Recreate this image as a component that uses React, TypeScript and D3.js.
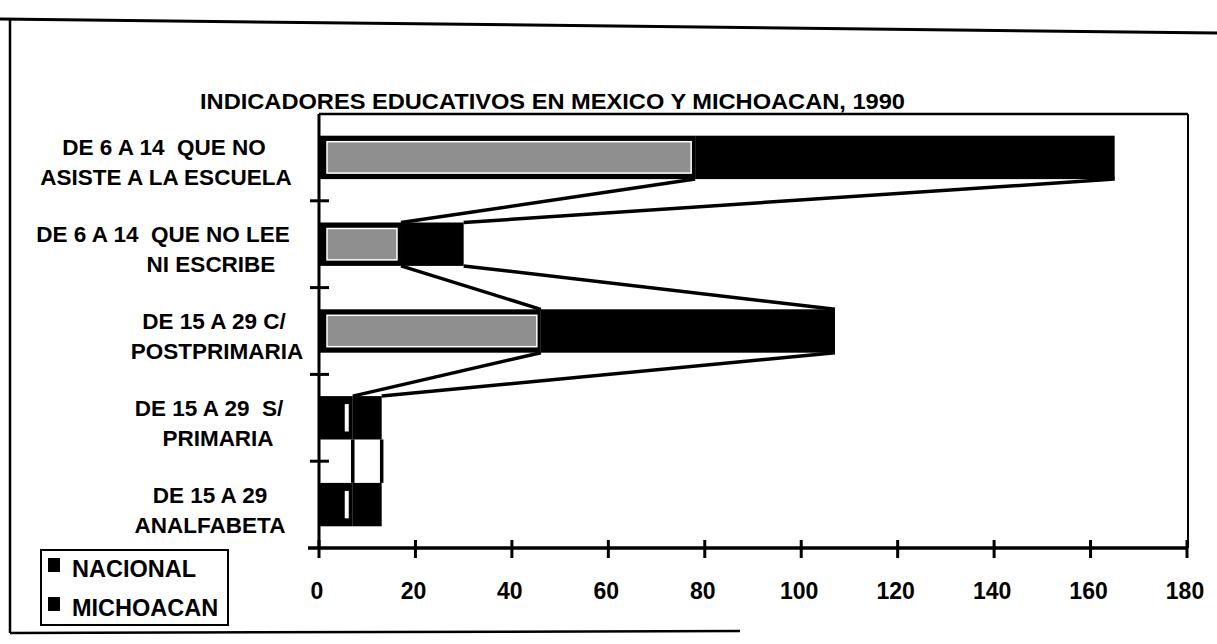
import React from "react";
import * as d3 from "d3";

const categories = [
  "DE 6 A 14 QUE NO ASISTE A LA ESCUELA",
  "DE 6 A 14 QUE NO LEE NI ESCRIBE",
  "DE 15 A 29 C/ POSTPRIMARIA",
  "DE 15 A 29 S/ PRIMARIA",
  "DE 15 A 29 ANALFABETA",
];
const categoryLines = [
  ["DE 6 A 14  QUE NO", "ASISTE A LA ESCUELA"],
  ["DE 6 A 14  QUE NO LEE", "NI ESCRIBE"],
  ["DE 15 A 29 C/", "POSTPRIMARIA"],
  ["DE 15 A 29  S/", "PRIMARIA"],
  ["DE 15 A 29", "ANALFABETA"],
];
const nacional = [78, 17, 46, 7, 7];
const michoacan = [87, 13, 61, 6, 6];
const seriesNames = ["NACIONAL", "MICHOACAN"];
const xTickValues = [0, 20, 40, 60, 80, 100, 120, 140, 160, 180];
const title = "INDICADORES EDUCATIVOS EN MEXICO Y MICHOACAN, 1990";

// layout (label centers per line)
const labelCenters = [
  [164, 166],
  [163, 211],
  [214, 217],
  [209, 218],
  [210, 210],
];

const FONT = "'Liberation Sans', Arial, Helvetica, sans-serif";

export default function App() {
  const W = 1217;
  const H = 644;
  const left = 319;
  const right = 1188;
  const top = 114;
  const bottom = 548;

  const x = d3.scaleLinear().domain([0, 180]).range([left, 1187]);
  const y = d3
    .scaleBand<string>()
    .domain(categories)
    .range([top, bottom])
    .paddingInner(0.5)
    .paddingOuter(0.25);
  const bw = y.bandwidth();
  const step = y.step();

  const rows = categories.map((c, i) => ({ cat: c, nac: nacional[i], mich: michoacan[i] }));
  const stacked = d3.stack<any>().keys(["nac", "mich"])(rows);

  const seriesLines: any[] = [];
  stacked.forEach((layer, li) => {
    for (let i = 0; i < categories.length - 1; i++) {
      const a = layer[i][1];
      const b = layer[i + 1][1];
      seriesLines.push(
        <line
          key={`sl-${li}-${i}`}
          x1={x(a)}
          y1={(y(categories[i]) as number) + bw}
          x2={x(b)}
          y2={y(categories[i + 1]) as number}
          stroke="#000"
          strokeWidth={3.5}
        />
      );
    }
  });

  const bars: any[] = [];
  stacked.forEach((layer, li) => {
    layer.forEach((d, i) => {
      const x0 = x(d[0]);
      const x1 = x(d[1]);
      const yy = y(categories[i]) as number;
      bars.push(
        <rect key={`b-${li}-${i}`} x={x0} y={yy} width={x1 - x0} height={bw} fill="#000" />
      );
      if (li === 0 && x1 - x0 > 40) {
        bars.push(
          <rect
            key={`bi-${li}-${i}`}
            x={x0 + 8}
            y={yy + 6}
            width={x1 - x0 - 12}
            height={bw - 12}
            fill="#8f8f8f"
            stroke="#fff"
            strokeWidth={1.5}
          />
        );
      } else if (li === 0) {
        bars.push(
          <rect
            key={`bi-${li}-${i}`}
            x={x1 - 8}
            y={yy + 8}
            width={4}
            height={bw - 16}
            fill="#fff"
          />
        );
      }
    });
  });

  const yTicks = d3.range(1, categories.length).map((k) => top + step * k);

  return (
    <svg
      width={W}
      height={H}
      style={{ position: "absolute", left: 0, top: 0, background: "#fff" }}
      fontFamily={FONT}
      fontWeight="bold"
    >
      <rect x={0} y={0} width={W} height={H} fill="#fff" />
      {/* outer frame */}
      <line x1={0} y1={19} x2={W} y2={33} stroke="#000" strokeWidth={3} />
      <line x1={10} y1={19} x2={10} y2={633} stroke="#000" strokeWidth={2.5} />
      <line x1={10} y1={633} x2={740} y2={631} stroke="#000" strokeWidth={2.5} />

      {/* title */}
      <text x={200} y={109} fontSize={22} textLength={705} lengthAdjust="spacingAndGlyphs" fill="#000">
        {title}
      </text>

      {/* plot frame */}
      <line x1={left} y1={top} x2={right} y2={top} stroke="#000" strokeWidth={2.5} />
      <line x1={right} y1={top} x2={right} y2={bottom} stroke="#000" strokeWidth={2} />

      {seriesLines}
      {bars}

      {/* y axis */}
      <line x1={left} y1={top} x2={left} y2={bottom} stroke="#000" strokeWidth={3} />
      {yTicks.map((t, i) => (
        <line key={`yt-${i}`} x1={310} y1={t} x2={329} y2={t} stroke="#000" strokeWidth={3} />
      ))}

      {/* x axis */}
      <line x1={308} y1={bottom} x2={1188} y2={bottom} stroke="#000" strokeWidth={3.5} />
      {xTickValues.map((v) => (
        <line key={`xt-${v}`} x1={x(v)} y1={bottom - 8} x2={x(v)} y2={bottom + 10} stroke="#000" strokeWidth={3} />
      ))}
      {xTickValues.map((v) => (
        <text key={`xl-${v}`} x={x(v) - 2} y={599} fontSize={23} textAnchor="middle" fill="#000">
          {v}
        </text>
      ))}

      {/* category labels */}
      {categoryLines.map((lines, i) => {
        const c = (y(categories[i]) as number) + bw / 2;
        return lines.map((ln, j) => (
          <text
            key={`cl-${i}-${j}`}
            x={labelCenters[i][j]}
            y={c - 2 + j * 30}
            fontSize={22.5}
            textAnchor="middle"
            fill="#000"
            style={{ whiteSpace: "pre" }}
          >
            {ln}
          </text>
        ));
      })}

      {/* legend */}
      <rect x={41} y={550} width={187} height={75} fill="#fff" stroke="#000" strokeWidth={2} />
      {seriesNames.map((s, i) => (
        <g key={`lg-${s}`}>
          <rect x={48} y={558 + i * 39} width={12} height={14} fill="#000" />
          <text x={72} y={577 + i * 39} fontSize={23.5} fill="#000">
            {s}
          </text>
        </g>
      ))}
    </svg>
  );
}
